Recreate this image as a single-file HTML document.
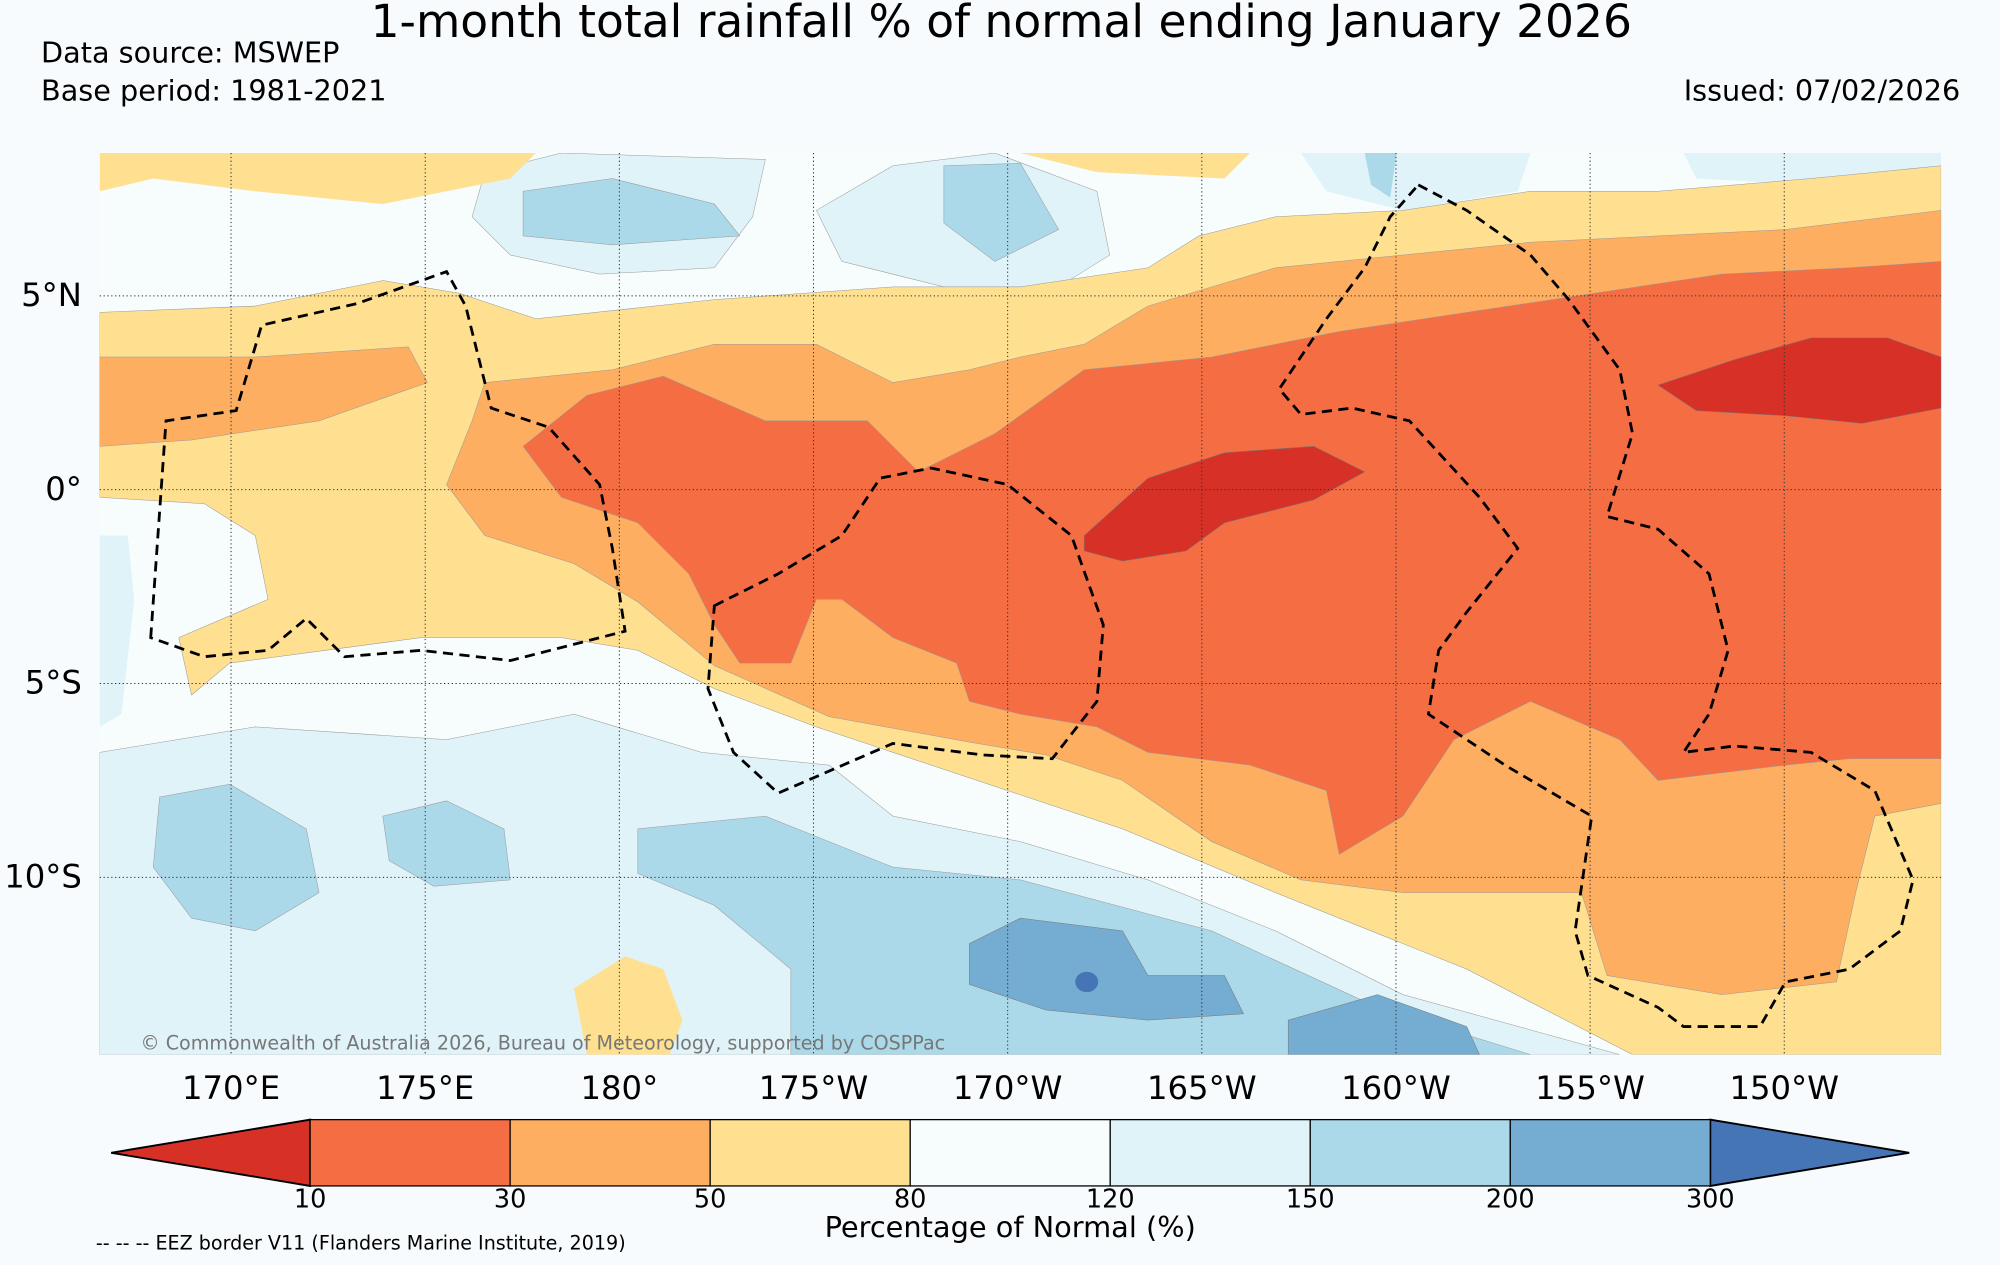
<!DOCTYPE html>
<html><head><meta charset="utf-8">
<style>
html,body{margin:0;padding:0;background:#f7fbfd;}
svg{display:block;}
text{font-family:"DejaVu Sans","Liberation Sans",sans-serif;fill:#000;}
</style></head>
<body>
<svg id="chart" width="2000" height="1265" viewBox="0 0 1568 992" xmlns="http://www.w3.org/2000/svg">
<rect x="0" y="0" width="1568" height="992" fill="#f7fbfd"/>
<text x="785" y="29" font-size="35.7" text-anchor="middle">1-month total rainfall % of normal ending January 2026</text>
<text x="32" y="49" font-size="22.5">Data source: MSWEP</text>
<text x="32" y="79" font-size="22.5">Base period: 1981-2021</text>
<text x="1537" y="79" font-size="22.5" text-anchor="end">Issued: 07/02/2026</text>

<defs><clipPath id="mapclip"><rect x="78" y="120" width="1444" height="707"/></clipPath></defs>
<g id="map" clip-path="url(#mapclip)">
<rect x="78" y="120" width="1444" height="707" fill="#f7fcfd"/>
<path fill="#e0f3f8" stroke="#999" stroke-width="0.4" d="M78,590 L200,570 L350,580 L450,560 L550,590 L650,600 L700,640 L800,660 L900,690 L1000,730 L1100,780 L1270,827 L78,827 Z"/>
<path fill="#e0f3f8" d="M78,420 L100,420 L105,470 L95,560 L78,570 Z"/>
<path fill="#e0f3f8" stroke="#999" stroke-width="0.4" d="M380,135 L440,120 L600,125 L590,170 L560,210 L470,215 L400,200 L370,170 Z"/>
<path fill="#e0f3f8" stroke="#999" stroke-width="0.4" d="M640,165 L700,130 L780,120 L860,150 L870,200 L830,225 L740,225 L660,205 Z"/>
<path fill="#e0f3f8" d="M1020,120 L1200,120 L1190,150 L1100,165 L1040,150 Z"/>
<path fill="#e0f3f8" d="M1320,120 L1522,120 L1522,140 L1420,145 L1330,140 Z"/>
<path fill="#abd9e9" stroke="#999" stroke-width="0.4" d="M500,650 L600,640 L700,680 L800,690 L950,730 L1080,790 L1200,827 L620,827 L620,760 L560,710 L500,685 Z"/>
<path fill="#abd9e9" stroke="#999" stroke-width="0.4" d="M125,625 L180,615 L240,650 L250,700 L200,730 L150,720 L120,680 Z"/>
<path fill="#abd9e9" stroke="#999" stroke-width="0.4" d="M300,640 L350,628 L395,650 L400,690 L340,695 L305,675 Z"/>
<path fill="#abd9e9" stroke="#999" stroke-width="0.4" d="M410,150 L480,140 L560,160 L580,185 L480,192 L410,185 Z"/>
<path fill="#abd9e9" stroke="#999" stroke-width="0.4" d="M740,130 L800,128 L830,180 L780,205 L740,175 Z"/>
<path fill="#abd9e9" d="M1070,120 L1095,120 L1090,155 L1075,145 Z"/>
<path fill="#74add1" stroke="#777" stroke-width="0.4" d="M760,740 L800,720 L880,730 L900,765 L960,765 L975,795 L900,800 L820,792 L760,772 Z"/>
<path fill="#74add1" stroke="#777" stroke-width="0.4" d="M1010,800 L1080,780 L1150,805 L1160,827 L1010,827 Z"/>
<ellipse cx="852" cy="770" rx="9" ry="8" fill="#4575b4"/>
<path fill="#fee090" stroke="#999" stroke-width="0.4" d="M78,245 L200,240 L300,220 L360,230 L420,250 L560,235 L700,225 L800,225 L900,210 L940,185 L1000,170 L1100,165 L1200,150 L1300,150 L1420,140 L1522,130 L1522,827 L1280,827 L1150,760 L1000,700 L880,650 L760,610 L640,570 L560,540 L500,510 L440,500 L330,500 L180,520 L150,545 L140,500 L210,470 L200,420 L160,395 L78,390 Z"/>
<path fill="#fee090" d="M78,120 L420,120 L400,140 L300,160 L200,150 L120,140 L78,150 Z"/>
<path fill="#fee090" d="M800,120 L980,120 L960,140 L860,135 Z"/>
<path fill="#fee090" d="M450,775 L490,750 L520,760 L535,800 L525,827 L460,827 Z"/>
<path fill="#fdae61" stroke="#999" stroke-width="0.4" d="M78,280 L200,280 L320,272 L335,300 L250,330 L150,345 L78,350 Z"/>
<path fill="#fdae61" stroke="#999" stroke-width="0.4" d="M370,330 L380,300 L480,290 L560,270 L640,270 L700,300 L760,290 L800,280 L850,270 L900,240 L1000,210 L1100,200 L1200,190 L1300,185 L1400,180 L1522,165 L1522,630 L1470,640 L1455,700 L1440,770 L1350,780 L1260,765 L1240,700 L1200,700 L1100,700 L1020,690 L950,660 L880,612 L820,592 L760,582 L650,562 L560,522 L500,472 L450,442 L380,420 L350,380 Z"/>
<path fill="#f46d43" stroke="#999" stroke-width="0.4" d="M410,350 L460,310 L520,295 L600,330 L680,330 L720,370 L780,340 L850,290 L950,280 L1050,260 L1150,245 L1250,230 L1350,215 L1450,210 L1522,205 L1522,595 L1450,595 L1400,600 L1300,612 L1270,580 L1200,550 L1140,580 L1100,640 L1050,670 L1040,620 L980,600 L900,590 L860,570 L800,560 L760,550 L750,520 L700,500 L660,470 L640,470 L620,520 L580,520 L560,490 L540,450 L500,410 L440,390 Z"/>
<path fill="#d73027" stroke="#777" stroke-width="0.4" d="M850,420 L900,375 L960,355 L1030,350 L1070,370 L1030,392 L960,410 L930,432 L880,440 L850,432 Z"/>
<path fill="#d73027" stroke="#777" stroke-width="0.4" d="M1300,302 L1360,282 L1420,265 L1480,265 L1522,280 L1522,320 L1460,332 L1400,326 L1330,322 Z"/>
</g>

<g id="grid" stroke="#333" stroke-width="0.8" stroke-dasharray="1,2" fill="none"></g>

<g id="eez" fill="none" stroke="#000" stroke-width="2.2" stroke-dasharray="8,5">
<path d="M118,500 L130,330 L185,322 L205,255 L280,238 L350,213 L365,240 L385,320 L430,335 L470,380 L480,430 L490,495 L400,518 L330,510 L270,515 L240,485 L210,510 L160,515 Z"/>
<path d="M560,475 L610,450 L660,420 L690,375 L730,367 L790,380 L840,420 L865,490 L860,550 L825,595 L770,592 L700,583 L610,622 L575,590 L555,540 Z"/>
<path d="M1112,145 L1150,165 L1200,200 L1230,235 L1270,290 L1280,340 L1260,405 L1300,415 L1340,450 L1355,510 L1340,560 L1320,590 L1360,585 L1420,590 L1470,620 L1500,690 L1490,730 L1450,760 L1400,770 L1380,805 L1320,805 L1300,790 L1245,765 L1235,730 L1248,640 L1180,600 L1120,560 L1128,510 L1150,480 L1190,430 L1160,390 L1105,330 L1060,320 L1020,325 L1003,305 L1040,250 L1070,210 L1090,170 Z"/>
</g>

<text x="110" y="823" font-size="15" style="fill:#777">© Commonwealth of Australia 2026, Bureau of Meteorology, supported by COSPPac</text>

<g id="xlabels"></g>
<g id="ylabels"></g>
<g id="colorbar"></g>
<text x="792" y="970" font-size="22.6" text-anchor="middle">Percentage of Normal (%)</text>
<text x="75" y="980" font-size="15">-- -- -- EEZ border V11 (Flanders Marine Institute, 2019)</text>
</svg>
<script>
const lonLabels = ["170°E","175°E","180°","175°W","170°W","165°W","160°W","155°W","150°W"];
const lonValues = [170,175,180,185,190,195,200,205,210];
const latLabels = ["5°N","0°","5°S","10°S"];
const latValues = [5,0,-5,-10];
const cbLevels = [10,30,50,80,120,150,200,300];
const cbColors = ["#f46d43","#fdae61","#fee090","#f7fcfd","#e0f3f8","#abd9e9","#74add1"];
const cbUnder = "#d73027";
const cbOver = "#4575b4";

const NS="http://www.w3.org/2000/svg";
function xLon(lon){return 181+(lon-170)*30.45;}
function yLat(lat){return 384-lat*30.4;}
const grid=document.getElementById('grid');
lonValues.forEach((v,i)=>{
  const l=document.createElementNS(NS,'line');
  l.setAttribute('x1',xLon(v));l.setAttribute('x2',xLon(v));l.setAttribute('y1',120);l.setAttribute('y2',827);
  
  
  grid.appendChild(l);
  const t=document.createElementNS(NS,'text');
  t.setAttribute('x',xLon(v));t.setAttribute('y',862);t.setAttribute('font-size','25.3');t.setAttribute('text-anchor','middle');
  t.textContent=lonLabels[i];
  
  
  document.getElementById('xlabels').appendChild(t);
});
latValues.forEach((v,i)=>{
  const l=document.createElementNS(NS,'line');
  l.setAttribute('x1',78);l.setAttribute('x2',1522);l.setAttribute('y1',yLat(v));l.setAttribute('y2',yLat(v));
  
  
  grid.appendChild(l);
  const t=document.createElementNS(NS,'text');
  t.setAttribute('x',64);t.setAttribute('y',yLat(v)+8);t.setAttribute('font-size','25.3');t.setAttribute('text-anchor','end');
  t.textContent=latLabels[i];
  
  
  document.getElementById('ylabels').appendChild(t);
});
const cb=document.getElementById('colorbar');
const x0=243,x1=1341,y0=878,y1=930,ym=(y0+y1)/2;
const bw=(x1-x0)/cbColors.length;
function mk(tag,attrs){const e=document.createElementNS(NS,tag);for(const k in attrs)e.setAttribute(k,attrs[k]);return e;}
const under=mk('polygon',{points:`${x0},${y0} ${x0},${y1} 87,${ym}`,fill:cbUnder,stroke:'#000','stroke-width':1.5});


cb.appendChild(under);
const over=mk('polygon',{points:`${x1},${y0} ${x1},${y1} 1497,${ym}`,fill:cbOver,stroke:'#000','stroke-width':1.5});


cb.appendChild(over);
cbColors.forEach((c,i)=>{
  const r=mk('rect',{x:x0+i*bw,y:y0,width:bw,height:y1-y0,fill:c,stroke:'#000','stroke-width':1});
  
  
  cb.appendChild(r);
});
cbLevels.forEach((v,i)=>{
  const t=mk('text',{x:x0+i*bw,y:947,'font-size':20,'text-anchor':'middle'});
  t.textContent=v;
  
  
  cb.appendChild(t);
});
</script>
</body></html>
